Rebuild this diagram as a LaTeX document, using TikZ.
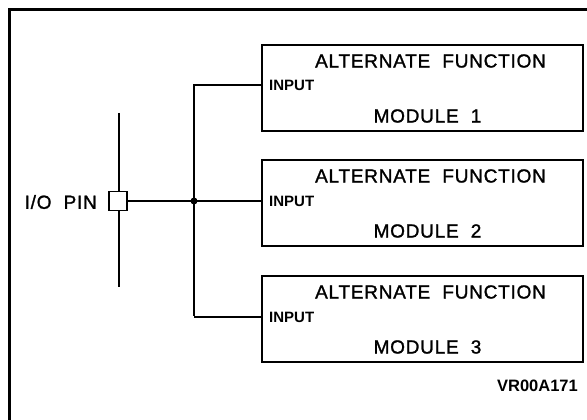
\documentclass[tikz,border=0pt]{standalone}
\usepackage{fontspec}
\setmainfont{Liberation Sans}
\newfontfamily\spaced[LetterSpace=4,FakeBold=1.3]{Liberation Sans}
\begin{document}
\begin{tikzpicture}[x=1pt,y=-1pt,
  frame/.style={line width=3pt},
  modbox/.style={draw,line width=2pt,minimum width=321pt,minimum height=86pt,inner sep=0pt,anchor=north west},
  lbl/.style={font=\spaced\fontsize{19}{20}\selectfont,inner sep=0pt},
  inlbl/.style={font=\bfseries\fontsize{15}{16}\selectfont,inner sep=0pt,anchor=west},
  bus/.style={line width=1.2pt},
  thick bus/.style={line width=2.2pt}]
\useasboundingbox (0,0) rectangle (587,420);
\draw[frame] (9.5,421) -- (9.5,9.5) -- (588,9.5);
% module boxes
\node[modbox] (b1) at (261,44) {};
\node[modbox] (b2) at (261,159) {};
\node[modbox] (b3) at (261,275) {};
\foreach \b/\n in {b1/1,b2/2,b3/3}{
  \node[lbl] (t\n) at ([xshift=8pt,yshift=-17pt]\b.north) {ALTERNATE\ \ FUNCTION};
  \node[lbl] (m\n) at ([xshift=5pt,yshift=16pt]\b.south) {MODULE\ \ \n};
}
\coordinate (in1) at (261,85);
\coordinate (in2) at (261,201);
\coordinate (in3) at (261,317);
\node[inlbl] (i1) at ([xshift=8pt]in1) {INPUT};
\node[inlbl] (i2) at ([xshift=8pt]in2) {INPUT};
\node[inlbl] (i3) at ([xshift=8pt]in3) {INPUT};
% pin
\coordinate (pt) at (119,113);
\coordinate (pb) at (119,287);
\draw[line width=1.5pt] (pt) -- (pb);
\node[draw,fill=white,line width=1.5pt,minimum width=18pt,minimum height=19pt,inner sep=0pt] (pin) at (118,201) {};
\node[lbl,anchor=east] (pl) at (97,202) {I/O\ \ PIN};
\coordinate (j) at (194,201);
\draw[thick bus] (pin.east) -- (j) -- (in2);
\draw[bus] (j) |- (in1);
\draw[bus] (j) -- (194,316);
\draw[thick bus] (194,317) -- (in3);
\fill (j) circle (3.5pt);
\node[font=\bfseries\fontsize{16.5}{18}\selectfont,inner sep=0pt,anchor=east] (code) at (578,386) {VR00A171};
\end{tikzpicture}
\end{document}
